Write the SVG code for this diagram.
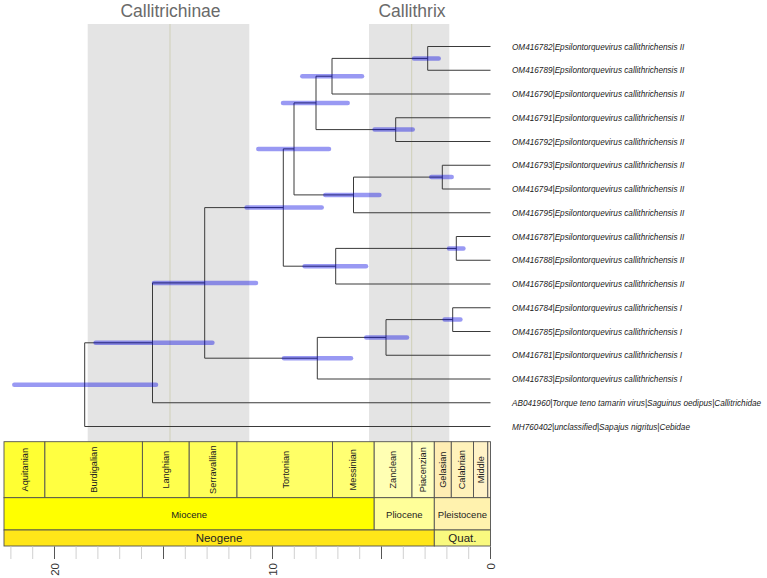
<svg xmlns="http://www.w3.org/2000/svg" width="767" height="578" viewBox="0 0 767 578">
<style>
.band{fill:#e4e4e4}
.bline{stroke:#cfcfb8;stroke-width:1;fill:none}
.title{font-family:"Liberation Sans",Arial,sans-serif;font-size:17.5px;fill:#6a6a6a;text-anchor:middle}
.edge{stroke:#3a3a3a;stroke-width:1;fill:none}
.hpd{stroke:#0000e0;stroke-opacity:0.4;stroke-width:4.5;stroke-linecap:round;fill:none}
.tip{font-family:"Liberation Sans",Arial,sans-serif;font-size:8.2px;font-style:italic;fill:#222}
.cell{stroke:#505050;stroke-width:0.9}
.st{font-family:"Liberation Sans",Arial,sans-serif;font-size:9.2px;fill:#222;text-anchor:middle;dominant-baseline:central}
.ep{font-family:"Liberation Sans",Arial,sans-serif;font-size:9.5px;fill:#222;text-anchor:middle;dominant-baseline:central}
.pe{font-family:"Liberation Sans",Arial,sans-serif;font-size:11.5px;fill:#222;text-anchor:middle;dominant-baseline:central}
.tk{stroke:#d0d0d0;stroke-width:1}
.tkM{stroke:#555;stroke-width:1}
.ax{font-family:"Liberation Sans",Arial,sans-serif;font-size:11.5px;fill:#333;text-anchor:end;dominant-baseline:central}
</style>

<g id="band-callitrichinae">
<rect class="band" x="87.7" y="24" width="161.6" height="418"/>
<line class="bline" x1="170" y1="24" x2="170" y2="442"/>
<text class="title" x="170.5" y="16.7">Callitrichinae</text>
</g>
<g id="band-callithrix">
<rect class="band" x="369" y="24" width="80.3" height="418"/>
<line class="bline" x1="411.7" y1="24" x2="411.7" y2="442"/>
<text class="title" x="412" y="16.7">Callithrix</text>
</g>

<g id="connectors">
<!-- A -->
<path class="edge" d="M427.7 46.5V70.25M427.7 46.5H490.5M427.7 70.25H490.5"/>
<!-- B -->
<path class="edge" d="M332 58.4V94M332 58.4H427.7M332 94H490.5"/>
<!-- C -->
<path class="edge" d="M395.7 117.75V141.5M395.7 117.75H490.5M395.7 141.5H490.5"/>
<!-- D -->
<path class="edge" d="M316 76.2V129.6M316 76.2H332M316 129.6H395.7"/>
<!-- E -->
<path class="edge" d="M442.3 165.25V189M442.3 165.25H490.5M442.3 189H490.5"/>
<!-- F -->
<path class="edge" d="M353.5 177.1V212.75M353.5 177.1H442.3M353.5 212.75H490.5"/>
<!-- G -->
<path class="edge" d="M294 102.9V194.9M294 102.9H316M294 194.9H353.5"/>
<!-- J -->
<path class="edge" d="M456.3 236.5V260.25M456.3 236.5H490.5M456.3 260.25H490.5"/>
<!-- I -->
<path class="edge" d="M335.7 248.4V284M335.7 248.4H456.3M335.7 284H490.5"/>
<!-- H -->
<path class="edge" d="M283.3 148.9V266.2M283.3 148.9H294M283.3 266.2H335.7"/>
<!-- P -->
<path class="edge" d="M452.7 307.75V331.5M452.7 307.75H490.5M452.7 331.5H490.5"/>
<!-- O -->
<path class="edge" d="M386 319.6V355.25M386 319.6H452.7M386 355.25H490.5"/>
<!-- N -->
<path class="edge" d="M317.3 337.4V379M317.3 337.4H386M317.3 379H490.5"/>
<!-- K -->
<path class="edge" d="M204.7 207.6V358.2M204.7 207.6H283.3M204.7 358.2H317.3"/>
<!-- L -->
<path class="edge" d="M152.5 282.9V402.75M152.5 282.9H204.7M152.5 402.75H490.5"/>
<!-- M root -->
<path class="edge" d="M84.7 342.8V426.5M84.7 342.8H152.5M84.7 426.5H490.5"/>
</g>

<g id="hpd-bars">
<line class="hpd" x1="414" y1="58.4" x2="438.7" y2="58.4"/>
<line class="hpd" x1="302.3" y1="76.2" x2="362" y2="76.2"/>
<line class="hpd" x1="374.6" y1="129.6" x2="412.7" y2="129.6"/>
<line class="hpd" x1="283" y1="102.9" x2="347.7" y2="102.9"/>
<line class="hpd" x1="431.3" y1="177.1" x2="451.7" y2="177.1"/>
<line class="hpd" x1="325.3" y1="194.9" x2="379.4" y2="194.9"/>
<line class="hpd" x1="258.3" y1="148.9" x2="329" y2="148.9"/>
<line class="hpd" x1="246.6" y1="207.6" x2="321.7" y2="207.6"/>
<line class="hpd" x1="304.6" y1="266.2" x2="366" y2="266.2"/>
<line class="hpd" x1="449" y1="248.4" x2="463.4" y2="248.4"/>
<line class="hpd" x1="154" y1="282.9" x2="256" y2="282.9"/>
<line class="hpd" x1="95.6" y1="342.8" x2="212.4" y2="342.8"/>
<line class="hpd" x1="14.3" y1="384.7" x2="156" y2="384.7"/>
<line class="hpd" x1="284" y1="358.2" x2="351" y2="358.2"/>
<line class="hpd" x1="366.3" y1="337.4" x2="407" y2="337.4"/>
<line class="hpd" x1="444.6" y1="319.6" x2="460.4" y2="319.6"/>
</g>

<g id="tip-OM416782"><text class="tip" x="512" y="49.5">OM416782|Epsilontorquevirus callithrichensis II</text></g>
<g id="tip-OM416789"><text class="tip" x="512" y="73.25">OM416789|Epsilontorquevirus callithrichensis II</text></g>
<g id="tip-OM416790"><text class="tip" x="512" y="97">OM416790|Epsilontorquevirus callithrichensis II</text></g>
<g id="tip-OM416791"><text class="tip" x="512" y="120.75">OM416791|Epsilontorquevirus callithrichensis II</text></g>
<g id="tip-OM416792"><text class="tip" x="512" y="144.5">OM416792|Epsilontorquevirus callithrichensis II</text></g>
<g id="tip-OM416793"><text class="tip" x="512" y="168.25">OM416793|Epsilontorquevirus callithrichensis II</text></g>
<g id="tip-OM416794"><text class="tip" x="512" y="192">OM416794|Epsilontorquevirus callithrichensis II</text></g>
<g id="tip-OM416795"><text class="tip" x="512" y="215.75">OM416795|Epsilontorquevirus callithrichensis II</text></g>
<g id="tip-OM416787"><text class="tip" x="512" y="239.5">OM416787|Epsilontorquevirus callithrichensis II</text></g>
<g id="tip-OM416788"><text class="tip" x="512" y="263.25">OM416788|Epsilontorquevirus callithrichensis II</text></g>
<g id="tip-OM416786"><text class="tip" x="512" y="287">OM416786|Epsilontorquevirus callithrichensis II</text></g>
<g id="tip-OM416784"><text class="tip" x="512" y="310.75">OM416784|Epsilontorquevirus callithrichensis I</text></g>
<g id="tip-OM416785"><text class="tip" x="512" y="334.5">OM416785|Epsilontorquevirus callithrichensis I</text></g>
<g id="tip-OM416781"><text class="tip" x="512" y="358.25">OM416781|Epsilontorquevirus callithrichensis I</text></g>
<g id="tip-OM416783"><text class="tip" x="512" y="382">OM416783|Epsilontorquevirus callithrichensis I</text></g>
<g id="tip-AB041960"><text class="tip" x="512" y="405.75">AB041960|Torque teno tamarin virus|Saguinus oedipus|Callitrichidae</text></g>
<g id="tip-MH760402"><text class="tip" x="512" y="429.5">MH760402|unclassified|Sapajus nigritus|Cebidae</text></g>

<g id="timescale">
<!-- stages -->
<rect class="cell" x="4" y="441.7" width="40.9" height="56" fill="#FFFF33"/>
<rect class="cell" x="44.9" y="441.7" width="97.5" height="56" fill="#FFFF41"/>
<rect class="cell" x="142.4" y="441.7" width="46.8" height="56" fill="#FFFF4D"/>
<rect class="cell" x="189.2" y="441.7" width="47.8" height="56" fill="#FFFF59"/>
<rect class="cell" x="237" y="441.7" width="95.5" height="56" fill="#FFFF66"/>
<rect class="cell" x="332.5" y="441.7" width="41.7" height="56" fill="#FFFF73"/>
<rect class="cell" x="374.2" y="441.7" width="37.8" height="56" fill="#FFFFB3"/>
<rect class="cell" x="412" y="441.7" width="22.3" height="56" fill="#FFFFBF"/>
<rect class="cell" x="434.3" y="441.7" width="17" height="56" fill="#FFEDB3"/>
<rect class="cell" x="451.3" y="441.7" width="22.2" height="56" fill="#FFF2BA"/>
<rect class="cell" x="473.5" y="441.7" width="14.3" height="56" fill="#FFF2C7"/>
<rect class="cell" x="487.8" y="441.7" width="2.7" height="56" fill="#FFF2D3"/>
<text class="st" transform="translate(24.5,469.7) rotate(-90)">Aquitanian</text>
<text class="st" transform="translate(93.6,469.7) rotate(-90)">Burdigalian</text>
<text class="st" transform="translate(165.8,469.7) rotate(-90)">Langhian</text>
<text class="st" transform="translate(213.1,469.7) rotate(-90)">Serravallian</text>
<text class="st" transform="translate(286,469.7) rotate(-90)">Tortonian</text>
<text class="st" transform="translate(353.4,469.7) rotate(-90)">Messinian</text>
<text class="st" transform="translate(393.1,469.7) rotate(-90)">Zanclean</text>
<text class="st" transform="translate(423.2,469.7) rotate(-90)">Piacenzian</text>
<text class="st" transform="translate(442.8,469.7) rotate(-90)">Gelasian</text>
<text class="st" transform="translate(462.4,469.7) rotate(-90)">Calabrian</text>
<text class="st" transform="translate(480.7,469.7) rotate(-90)">Middle</text>
<!-- epochs -->
<rect class="cell" x="4" y="497.7" width="370.2" height="32.3" fill="#FFFF00"/>
<rect class="cell" x="374.2" y="497.7" width="60.1" height="32.3" fill="#FFFF99"/>
<rect class="cell" x="434.3" y="497.7" width="56.2" height="32.3" fill="#FFF2AE"/>
<text class="ep" x="189.1" y="514">Miocene</text>
<text class="ep" x="404.3" y="514">Pliocene</text>
<text class="ep" x="462.4" y="514">Pleistocene</text>
<!-- periods -->
<rect class="cell" x="4" y="530" width="430.3" height="16" fill="#FFE619"/>
<rect class="cell" x="434.3" y="530" width="56.2" height="16" fill="#F9F97F"/>
<text class="pe" x="219" y="538.3">Neogene</text>
<text class="pe" x="462.4" y="538.3">Quat.</text>
</g>

<g id="axis">
<path class="tk" d="M10.9 546.5V559M32.7 546.5V559M76.1 546.5V559M97.9 546.5V559M119.7 546.5V559M141.5 546.5V559M185.3 546.5V559M207.1 546.5V559M228.9 546.5V559M250.7 546.5V559M294.3 546.5V559M316.1 546.5V559M337.9 546.5V559M359.7 546.5V559M403.3 546.5V559M425.1 546.5V559M446.9 546.5V559M468.7 546.5V559"/>
<path class="tkM" d="M54.5 546.5V559M163.5 546.5V559M272.5 546.5V559M381.5 546.5V559M490.5 546.5V559"/>
<text class="ax" transform="translate(54.5,563) rotate(-90)">20</text>
<text class="ax" transform="translate(272.5,563) rotate(-90)">10</text>
<text class="ax" transform="translate(490.5,563) rotate(-90)">0</text>
</g>
</svg>
